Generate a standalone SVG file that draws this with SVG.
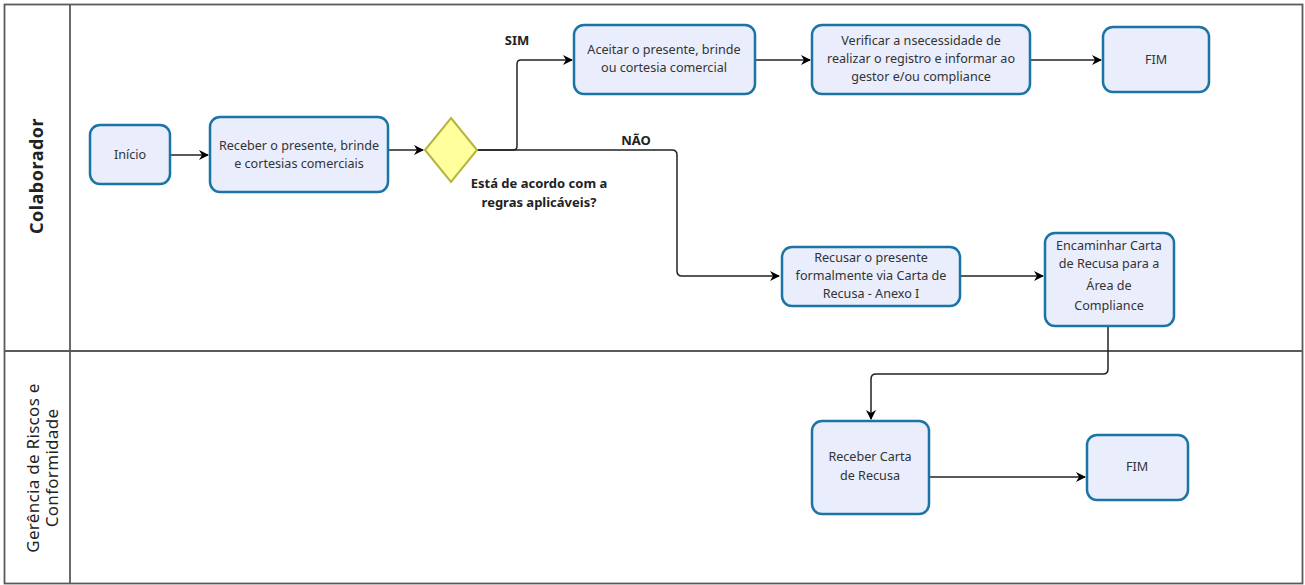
<svg xmlns="http://www.w3.org/2000/svg" width="1305" height="585" viewBox="0 0 1305 585">
<style>
.lane{fill:none;stroke:#5a5a5a;stroke-width:1.8}
.task{fill:#e9edfc;stroke:#1b74a4;stroke-width:2.5}
.gw{fill:#ffff9e;stroke:#b5b53a;stroke-width:2}
.t{font-family:"Noto Sans","Open Sans",sans-serif;font-size:12.6px;fill:#333;text-anchor:middle}
.b{font-family:"Noto Sans","Open Sans",sans-serif;font-size:13px;font-weight:bold;fill:#222;text-anchor:middle}
.lt{font-family:"Noto Sans","Open Sans",sans-serif;fill:#222;text-anchor:middle}
.c{fill:none;stroke:#222;stroke-width:1.5}
</style>
<defs>
<marker id="ar" viewBox="0 0 10 10" refX="9" refY="5" markerWidth="10" markerHeight="10" markerUnits="userSpaceOnUse" orient="auto">
<path d="M0,0 L10,5 L0,10 L3,5 z" fill="#000"/>
</marker>
</defs>
<rect width="1305" height="585" fill="#fff"/>
<g id="lanes">
<rect class="lane" x="4.5" y="4.5" width="1298" height="579"/>
<line class="lane" x1="70" y1="4.5" x2="70" y2="583.5"/>
<line class="lane" x1="4.5" y1="351" x2="1302.5" y2="351"/>
<text class="lt" font-size="18" font-weight="bold" letter-spacing="0.5" transform="translate(43,176) rotate(-90)">Colaborador</text>
<text class="lt" font-size="17" letter-spacing="0.3" transform="translate(42,468) rotate(-90)"><tspan x="0" y="-3">Gerência de Riscos e</tspan><tspan x="0" y="16">Conformidade</tspan></text>
</g>
<g id="connectors">
<path class="c" d="M170,155 H208" marker-end="url(#ar)"/>
<path class="c" d="M388,150 H423" marker-end="url(#ar)"/>
<path class="c" d="M477,150 H513 Q517,150 517,146 V64 Q517,60 521,60 H572" marker-end="url(#ar)"/>
<path class="c" d="M477,150 H672 Q677,150 677,155 V271 Q677,276 682,276 H779" marker-end="url(#ar)"/>
<path class="c" d="M755,60 H810" marker-end="url(#ar)"/>
<path class="c" d="M1030,60 H1101" marker-end="url(#ar)"/>
<path class="c" d="M960,276 H1043" marker-end="url(#ar)"/>
<path class="c" d="M1108,326 V369 Q1108,374 1103,374 H876 Q871,374 871,379 V419" marker-end="url(#ar)"/>
<path class="c" d="M929,477 H1085" marker-end="url(#ar)"/>
<text class="b" x="517" y="45">SIM</text>
<text class="b" x="636" y="145">NÃO</text>
</g>
<g id="inicio">
<rect class="task" x="90" y="125" width="80" height="59" rx="10"/>
<text class="t" x="130" y="159">Início</text>
</g>
<g id="receber">
<rect class="task" x="210" y="117" width="178" height="75" rx="10"/>
<text class="t" x="299" y="150">Receber o presente, brinde</text>
<text class="t" x="299" y="168">e cortesias comerciais</text>
</g>
<g id="decisao">
<polygon class="gw" points="451,118 477,150 451,182 425,150"/>
<text class="b" x="539" y="188">Está de acordo com a</text>
<text class="b" x="539" y="207">regras aplicáveis?</text>
</g>
<g id="aceitar">
<rect class="task" x="574" y="25" width="181" height="69" rx="10"/>
<text class="t" x="664" y="54">Aceitar o presente, brinde</text>
<text class="t" x="664" y="72">ou cortesia comercial</text>
</g>
<g id="verificar">
<rect class="task" x="812" y="25" width="218" height="69" rx="10"/>
<text class="t" x="921" y="45">Verificar a nsecessidade de</text>
<text class="t" x="921" y="63">realizar o registro e informar ao</text>
<text class="t" x="921" y="81">gestor e/ou compliance</text>
</g>
<g id="fim1">
<rect class="task" x="1103" y="27" width="106" height="65" rx="10"/>
<text class="t" x="1156" y="64">FIM</text>
</g>
<g id="recusar">
<rect class="task" x="782" y="247" width="178" height="59" rx="10"/>
<text class="t" x="871" y="262">Recusar o presente</text>
<text class="t" x="871" y="280">formalmente via Carta de</text>
<text class="t" x="871" y="298">Recusa - Anexo I</text>
</g>
<g id="encaminhar">
<rect class="task" x="1045" y="233" width="129" height="93" rx="10"/>
<text class="t" x="1109" y="250">Encaminhar Carta</text>
<text class="t" x="1109" y="268">de Recusa para a</text>
<text class="t" x="1109" y="290">Área de</text>
<text class="t" x="1109" y="310">Compliance</text>
</g>
<g id="receber-carta">
<rect class="task" x="812" y="421" width="117" height="93" rx="10"/>
<text class="t" x="870" y="461">Receber Carta</text>
<text class="t" x="870" y="480">de Recusa</text>
</g>
<g id="fim2">
<rect class="task" x="1087" y="435" width="101" height="65" rx="10"/>
<text class="t" x="1137" y="471">FIM</text>
</g>
</svg>
